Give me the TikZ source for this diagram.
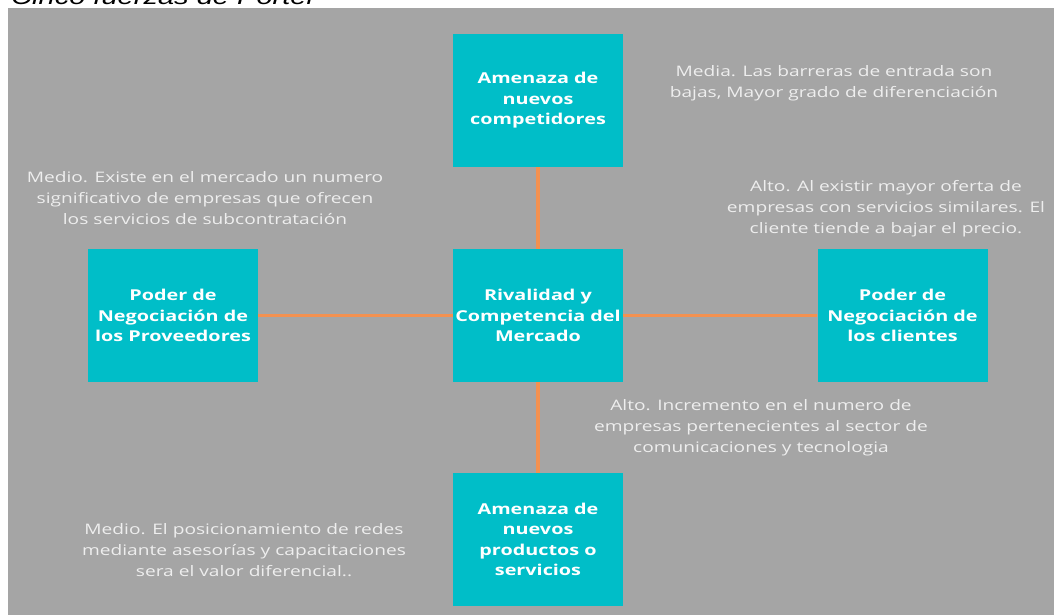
\documentclass[tikz,border=0pt]{standalone}
\usepackage{fontspec}
\setmainfont{Open Sans}
\newfontfamily\descfont[FakeStretch=1.32]{Open Sans}
\newfontfamily\boxfont[FakeStretch=1.32]{Open Sans}
\newfontfamily\titlefont[FakeStretch=1.32]{Liberation Sans}
\definecolor{bggray}{HTML}{A5A5A5}
\definecolor{teal}{HTML}{00BEC8}
\definecolor{link}{HTML}{F39150}
\definecolor{desc}{HTML}{EEEEEE}
\tikzset{
  force/.style={fill=teal, minimum width=170pt, minimum height=133pt, inner sep=0pt,
    align=center, text=white, font=\boxfont\bfseries\fontsize{15}{20.5}\selectfont},
  note/.style={align=center, text=desc, inner sep=0pt, font=\descfont\fontsize{14.5}{21}\selectfont},
  link/.style={draw=link, line width=3.5pt}
}
\begin{document}
\begin{tikzpicture}[x=1pt, y=-1pt]
\useasboundingbox (0,0) rectangle (1054,615);
\fill[white] (0,0) rectangle (1054,615);
\node[anchor=base west, inner sep=0pt, font=\titlefont\itshape\fontsize{22}{26}\selectfont] (title) at (11,5) {Cinco fuerzas de Porter};
\fill[bggray] (8,8) rectangle (1054,615);
\node[force] (top) at (538,100.5) {Amenaza de\\nuevos\\competidores};
\node[force] (left) at (173,315.5) {Poder de\\Negociación de\\los Proveedores};
\node[force] (center) at (538,315.5) {Rivalidad y\\Competencia del\\Mercado};
\node[force] (right) at (902.5,315.5) {Poder de\\Negociación de\\los clientes};
\node[force] (bottom) at (538,539.5) {Amenaza de\\nuevos\\productos o\\servicios};
\draw[link] (top) -- (center);
\draw[link] (center) -- (bottom);
\draw[link] (left) -- (center);
\draw[link] (center) -- (right);
\node[note] (ntop) at (834,83) {Media. Las barreras de entrada son\\bajas, Mayor grado de diferenciación};
\node[note] (nright) at (886,209) {Alto. Al existir mayor oferta de\\empresas con servicios similares. El\\cliente tiende a bajar el precio.};
\node[note] (nleft) at (205,198) {Medio. Existe en el mercado un numero\\significativo de empresas que ofrecen\\los servicios de subcontratación};
\node[note] (nbr) at (761,428) {Alto. Incremento en el numero de\\empresas pertenecientes al sector de\\comunicaciones y tecnologia};
\node[note] (nbl) at (244,550) {Medio. El posicionamiento de redes\\mediante asesorías y capacitaciones\\sera el valor diferencial..};
\end{tikzpicture}
\end{document}
